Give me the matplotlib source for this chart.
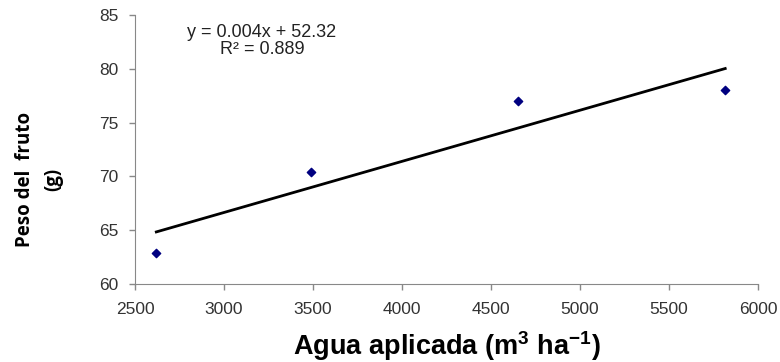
import numpy as np
import matplotlib
matplotlib.use('Agg')
import matplotlib.pyplot as plt

plt.rcParams['font.family'] = ['Liberation Sans', 'DejaVu Sans']
plt.rcParams['mathtext.fontset'] = 'custom'
plt.rcParams['mathtext.rm'] = 'Liberation Sans:bold'
plt.rcParams['mathtext.bf'] = 'Liberation Sans:bold'

# data
agua = [2620, 3490, 4650, 5815]
peso = [62.85, 70.45, 77.0, 78.03]
x_ticks = [2500, 3000, 3500, 4000, 4500, 5000, 5500, 6000]
y_ticks = [60, 65, 70, 75, 80, 85]

fig = plt.figure(figsize=(7.8, 3.62), dpi=100)
ax = fig.add_axes([0.173, 0.2155, 0.799, 0.743])

# linear trend line
slope, inter = np.polyfit(agua, peso, 1)
xl = np.array([min(agua), max(agua)])
ax.plot(xl, slope * xl + inter, color='black', lw=2)

ax.scatter(agua, peso, marker='D', s=18, color='#000080', zorder=3)

ax.set_xlim(2500, 6000)
ax.set_ylim(60, 85)
ax.set_xticks(x_ticks)
ax.set_yticks(y_ticks)
ax.tick_params(labelsize=12.5, colors='#333333', length=4, width=1, color='#888888')
ax.tick_params(axis='x', pad=9)
ax.tick_params(axis='y', pad=8)
for s in ['top', 'right']:
    ax.spines[s].set_visible(False)
for s in ['left', 'bottom']:
    ax.spines[s].set_color('#888888')

ax.text(3213, 82.63, 'y = 0.004x + 52.32\nR² = 0.889', ha='center', va='center',
        fontsize=13, color='#222222', linespacing=1.0)

ax.set_xlabel(r'Agua aplicada (m$^{3}$ ha$^{-1}$)', fontsize=19.5, fontweight='bold', labelpad=9)
fig.text(0.05, 0.505, 'Peso del  fruto\n(g)', rotation=90, ha='center', va='center',
         family='Open Sans', fontsize=13.5, fontweight='bold', linespacing=1.55,
         multialignment='center')

plt.savefig('out.png', dpi=100)
